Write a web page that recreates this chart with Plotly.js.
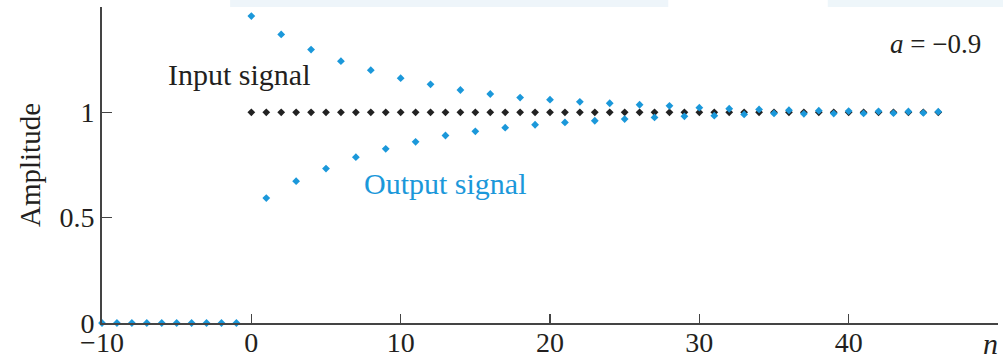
<!DOCTYPE html>
<html>
<head>
<meta charset="utf-8">
<script src="https://cdn.plot.ly/plotly-3.0.1.min.js"></script>
<style>html,body{margin:0;padding:0;background:#fff;}#chart{width:1003px;height:355px;}</style>
</head>
<body>
<div id="chart"></div>
<script>
// sample indices
var nZero = [-10, -9, -8, -7, -6, -5, -4, -3, -2, -1];
var nPos = [0, 1, 2, 3, 4, 5, 6, 7, 8, 9,
            10, 11, 12, 13, 14, 15, 16, 17, 18, 19,
            20, 21, 22, 23, 24, 25, 26, 27, 28, 29,
            30, 31, 32, 33, 34, 35, 36, 37, 38, 39,
            40, 41, 42, 43, 44, 45, 46];
// values before n = 0
var zeroVals = [0, 0, 0, 0, 0, 0, 0, 0, 0, 0];
// input signal (unit step) for n = 0..46
var inputVals = [1,1,1,1,1,1,1,1,1,1, 1,1,1,1,1,1,1,1,1,1, 1,1,1,1,1,1,1,1,1,1, 1,1,1,1,1,1,1,1,1,1, 1,1,1,1,1,1,1];
// output signal, n = 0..46
var outputVals = [1.457, 0.593, 1.370, 0.673, 1.298, 0.733, 1.243, 0.787, 1.200, 0.827,
                  1.162, 0.860, 1.133, 0.890, 1.106, 0.910, 1.087, 0.927, 1.070, 0.941,
                  1.060, 0.952, 1.050, 0.960, 1.043, 0.968, 1.036, 0.976, 1.031, 0.981,
                  1.022, 0.984, 1.017, 0.990, 1.014, 0.995, 1.010, 0.993, 1.008, 0.994,
                  1.006, 0.995, 1.005, 0.996, 1.004, 0.997, 1.003];
var xTicks = [-10, 0, 10, 20, 30, 40];
var xTickText = ['\u221210', '0', '10', '20', '30', '40'];
var yTicks = [0, 0.5, 1];
var yTickText = ['0', '0.5', '1'];

var blue = '#1b98da';
var ink = '#231f20';
var serif = 'Liberation Serif, Times New Roman, serif';
var fs = 30;
var tfs = 28;

var traces = [
  {x: nPos, y: inputVals, mode: 'markers', type: 'scatter', name: 'Input signal',
   marker: {symbol: 'diamond', size: 6, color: '#222222'}, cliponaxis: false},
  {x: nZero, y: zeroVals, mode: 'markers', type: 'scatter', name: 'zero',
   marker: {symbol: 'diamond', size: 6, color: blue}, cliponaxis: false},
  {x: nPos, y: outputVals, mode: 'markers', type: 'scatter', name: 'Output signal',
   marker: {symbol: 'diamond', size: 6, color: blue}, cliponaxis: false}
];

var layout = {
  width: 1003, height: 355,
  margin: {l: 102, r: 5, t: 7, b: 32, pad: 0},
  paper_bgcolor: '#ffffff', plot_bgcolor: '#ffffff',
  showlegend: false,
  font: {family: serif, size: fs, color: ink},
  xaxis: {
    range: [-10, 50], showgrid: false, zeroline: false,
    showline: true, linecolor: '#444444', linewidth: 2,
    ticks: 'inside', ticklen: 9, tickwidth: 1.5, tickcolor: '#444444',
    tickvals: xTicks, ticktext: xTickText, ticklabelstandoff: -7,
    tickfont: {family: serif, size: tfs, color: ink}
  },
  yaxis: {
    range: [0, 1.5], showgrid: false, zeroline: false,
    showline: true, linecolor: '#444444', linewidth: 2,
    ticks: 'inside', ticklen: 10, tickwidth: 1.5, tickcolor: '#444444',
    tickvals: yTicks, ticktext: yTickText,
    tickfont: {family: serif, size: tfs, color: ink},
    title: {text: 'Amplitude', font: {family: serif, size: 29, color: ink}, standoff: 10}
  },
  shapes: [
    {type: 'rect', xref: 'paper', yref: 'paper', x0: 0.143, x1: 0.632, y0: 1.0, y1: 1.025,
     fillcolor: '#eef5fa', line: {width: 0}, layer: 'below'},
    {type: 'rect', xref: 'paper', yref: 'paper', x0: 0.810, x1: 1.01, y0: 1.0, y1: 1.025,
     fillcolor: '#eef6fa', line: {width: 0}, layer: 'below'}
  ],
  annotations: [
    {x: -0.78, y: 1.18, xref: 'x', yref: 'y', text: 'Input signal', showarrow: false,
     font: {family: serif, size: fs, color: ink}},
    {x: 13.0, y: 0.663, xref: 'x', yref: 'y', text: 'Output signal', showarrow: false,
     font: {family: serif, size: fs, color: blue}},
    {x: 49.0, y: 1.325, xref: 'x', yref: 'y', xanchor: 'right', text: '<i>a</i> = \u22120.9', showarrow: false,
     font: {family: serif, size: 27, color: ink}},
    {x: 0.992, y: -0.066, xref: 'paper', yref: 'paper', xanchor: 'center', yanchor: 'middle',
     text: '<i>n</i>', showarrow: false,
     font: {family: serif, size: fs, color: ink}}
  ]
};

Plotly.newPlot('chart', traces, layout, {staticPlot: true, displayModeBar: false});
</script>
</body>
</html>
